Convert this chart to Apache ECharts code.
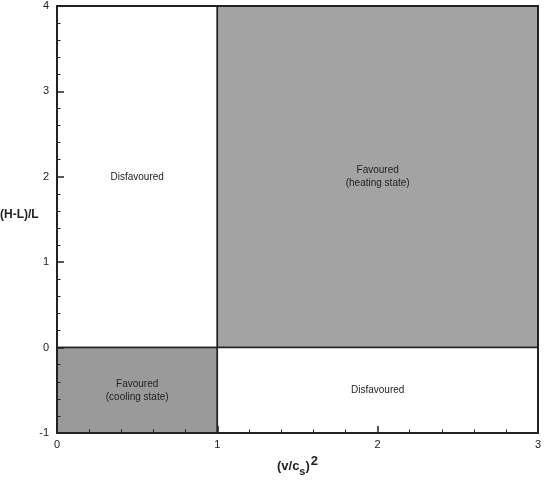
<!DOCTYPE html>
<html><head><meta charset="utf-8">
<script src="https://cdn.jsdelivr.net/npm/echarts@6/dist/echarts.min.js"></script>
<style>html,body{margin:0;padding:0;background:#fff}#c{width:545px;height:490px}</style>
</head><body><div id="c"></div>
<script>
const xRange = [0, 3];
const yRange = [-1, 4];
const regionX0 = [0, 1, 0, 1];
const regionX1 = [1, 3, 1, 3];
const regionY0 = [0, 0, -1, -1];
const regionY1 = [4, 4, 0, 0];
const regionLabels = ['Disfavoured', 'Favoured\n(heating state)', 'Favoured\n(cooling state)', 'Disfavoured'];
const regionFill = ['#ffffff', '#a3a3a3', '#9a9a9a', '#ffffff'];

const data = regionX0.map((x0, i) => [x0, regionX1[i], regionY0[i], regionY1[i], i]);
const font = 'Liberation Sans, Arial, Helvetica, sans-serif';

const chart = echarts.init(document.getElementById('c'));
const axisCommon = {
  z: 10,
  axisLine: {show: true, onZero: false, lineStyle: {color: '#222', width: 2}},
  axisTick: {show: true, inside: true, length: 7, lineStyle: {color: '#222', width: 1.5}},
  minorTick: {show: true, splitNumber: 5, length: 3.5, lineStyle: {color: '#222', width: 1}},
  splitLine: {show: false},
  axisLabel: {color: '#222', fontFamily: font, fontSize: 11}
};
chart.setOption({
  animation: false,
  grid: {left: 57, right: 7, top: 6, bottom: 57, show: false, outerBoundsMode: 'none', containLabel: false},
  graphic: [{
    type: 'text', left: 0, top: 209, z: 20,
    style: {text: '(H-L)/L', fontFamily: font, fontWeight: 'bold', fontSize: 12, fill: '#222'}
  }],
  xAxis: [
    Object.assign({}, axisCommon, {type: 'value', min: xRange[0], max: xRange[1], interval: 1,
      axisLabel: Object.assign({}, axisCommon.axisLabel, {margin: 6}),
      name: '{b|(v/c}{s|s}{b|)}{p|2}', nameLocation: 'middle', nameGap: 20,
      nameTextStyle: {rich: {
        b: {fontFamily: font, fontWeight: 'bold', fontSize: 13, color: '#222'},
        s: {fontFamily: font, fontWeight: 'bold', fontSize: 11, color: '#222', verticalAlign: 'top', padding: [12,0,0,0], lineHeight: 10},
        p: {fontFamily: font, fontWeight: 'bold', fontSize: 13, color: '#222', padding: [0,0,10,1]}
      }}}),
    Object.assign({}, axisCommon, {type: 'value', position: 'top', min: xRange[0], max: xRange[1], interval: 1,
      axisTick: {show: false}, minorTick: {show: false}, axisLabel: {show: false}})
  ],
  yAxis: [
    Object.assign({}, axisCommon, {type: 'value', min: yRange[0], max: yRange[1], interval: 1,
      axisLabel: Object.assign({}, axisCommon.axisLabel, {margin: 8})}),
    Object.assign({}, axisCommon, {type: 'value', position: 'right', min: yRange[0], max: yRange[1], interval: 1,
      axisTick: {show: false}, minorTick: {show: false}, axisLabel: {show: false}})
  ],
  series: [{
    type: 'custom',
    z: 1,
    xAxisIndex: 0, yAxisIndex: 0,
    data: data,
    renderItem: function (params, api) {
      const p0 = api.coord([api.value(0), api.value(3)]);
      const p1 = api.coord([api.value(1), api.value(2)]);
      const i = api.value(4);
      return {
        type: 'rect',
        shape: {x: p0[0], y: p0[1], width: p1[0] - p0[0], height: p1[1] - p0[1]},
        style: {fill: regionFill[i], stroke: '#222', lineWidth: 1.5},
        textContent: {
          style: {text: regionLabels[i], fill: '#222', fontFamily: font, fontSize: 10, lineHeight: 13, align: 'center'}
        },
        textConfig: {position: 'inside'}
      };
    }
  }]
});
</script></body></html>
